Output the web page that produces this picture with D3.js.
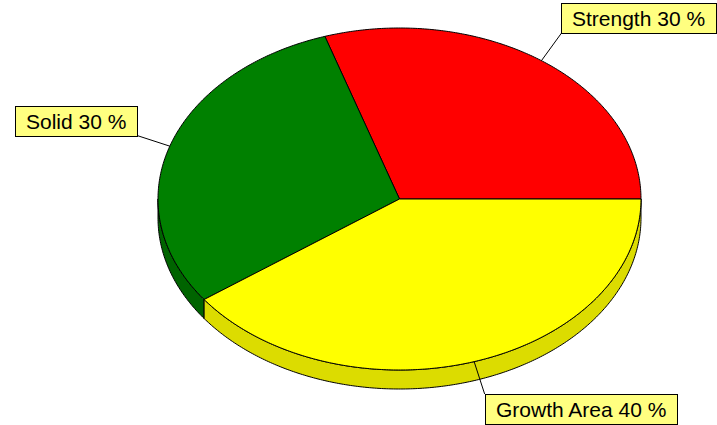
<!DOCTYPE html>
<html>
<head>
<meta charset="utf-8">
<script src="https://cdn.jsdelivr.net/npm/d3@7"></script>
<style>
body { margin: 0; background: #fff; }
</style>
</head>
<body>
<div id="chart"></div>
<script>
var categories = ["Strength", "Solid", "Growth Area"];
var values = [30, 30, 40];
var colors = ["#ff0000", "#008000", "#ffff00"];
var sideColors = ["#dc0000", "#006400", "#dcdc00"];

var width = 717, height = 425;
var cx = 399.5, cy = 199, rx = 241.5, ry = 171, depth = 19;
var arrowLen = 34;
var pad = 11, boxH = 30;

var svg = d3.select('#chart')
    .append('svg')
    .attr('width', width)
    .attr('height', height);

var data = categories.map(function (c, i) {
    return { name: c, val: values[i], color: colors[i], side: sideColors[i] };
});

// counter-clockwise from 3 o'clock, like the original
var pie = d3.pie()
    .value(function (d) { return d.val; })
    .sort(null)
    .startAngle(Math.PI / 2)
    .endAngle(Math.PI / 2 - 2 * Math.PI);

var arcs = pie(data);
var total = d3.sum(values);

function pt(a, dy) {
    return [cx + rx * Math.sin(a), cy - ry * Math.cos(a) + (dy || 0)];
}
function sample(a0, a1, dy) {
    var n = Math.max(2, Math.ceil(Math.abs(a1 - a0) / 0.01));
    return d3.range(n + 1).map(function (i) { return pt(a0 + (a1 - a0) * i / n, dy); });
}
var line = d3.line();

// side walls (front half only)
var sides = svg.append('g');
arcs.forEach(function (d) {
    var lo = Math.min(d.startAngle, d.endAngle), hi = Math.max(d.startAngle, d.endAngle);
    for (var k = -1; k <= 1; k++) {
        var f0 = -1.5 * Math.PI + 2 * Math.PI * k, f1 = -0.5 * Math.PI + 2 * Math.PI * k;
        var a0 = Math.max(lo, f0), a1 = Math.min(hi, f1);
        if (a1 <= a0) continue;
        var pts = sample(a0, a1, 0).concat(sample(a1, a0, depth));
        sides.append('path')
            .attr('d', line(pts) + 'Z')
            .attr('fill', d.data.side)
            .attr('stroke', '#000')
            .attr('stroke-width', 1)
            .attr('stroke-linejoin', 'round');
    }
});

// top face
svg.append('g').selectAll('path')
    .data(arcs)
    .enter()
    .append('path')
    .attr('d', function (d) {
        return line([[cx, cy]].concat(sample(d.startAngle, d.endAngle, 0))) + 'Z';
    })
    .attr('fill', function (d) { return d.data.color; })
    .attr('stroke', '#000')
    .attr('stroke-width', 1)
    .attr('stroke-linejoin', 'round');

// marks
var marks = svg.append('g');
arcs.forEach(function (d) {
    var m = (d.startAngle + d.endAngle) / 2;
    var p0 = pt(m, 0);
    var dx = Math.sin(m), dy = -Math.cos(m);
    var p1 = [p0[0] + arrowLen * dx, p0[1] + arrowLen * dy];

    marks.append('line')
        .attr('x1', p0[0]).attr('y1', p0[1])
        .attr('x2', p1[0]).attr('y2', p1[1])
        .attr('stroke', '#000')
        .attr('stroke-width', 1);

    var g = marks.append('g');
    var rect = g.append('rect');
    var txt = g.append('text')
        .attr('font-family', '"Liberation Sans", Arial, sans-serif')
        .attr('font-size', 21)
        .attr('fill', '#000')
        .text(d.data.name + ' ' + Math.round(100 * d.data.val / total) + ' %');
    var tw = txt.node().getComputedTextLength();
    var w = tw + 2 * pad;
    var bx = dx >= 0 ? p1[0] : p1[0] - w;
    var by = dy < 0 ? p1[1] - boxH : p1[1];

    rect.attr('x', Math.round(bx) + 0.5)
        .attr('y', Math.round(by) + 0.5)
        .attr('width', Math.round(w))
        .attr('height', boxH)
        .attr('fill', '#ffff80')
        .attr('stroke', '#000')
        .attr('stroke-width', 1);
    txt.attr('x', Math.round(bx) + pad)
        .attr('y', Math.round(by) + boxH / 2 + 7.5);
});
</script>
</body>
</html>
